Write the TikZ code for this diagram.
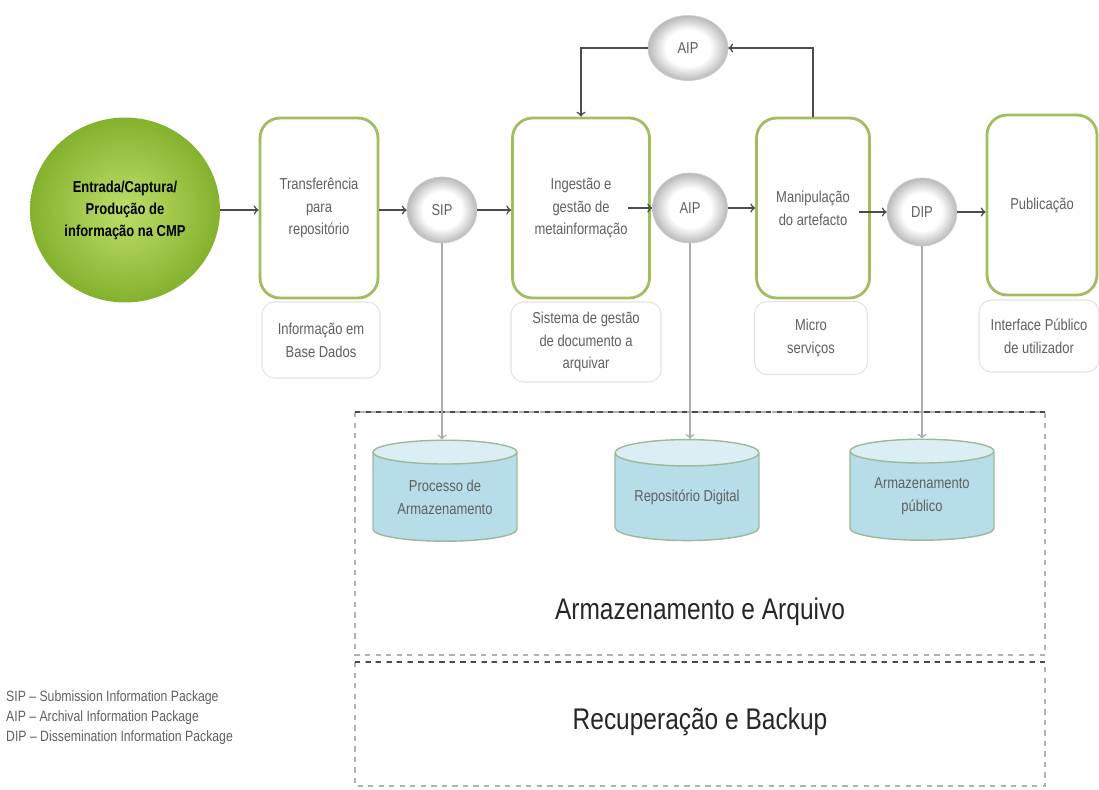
\documentclass[tikz,border=0pt]{standalone}
\usepackage{fontspec}
\setmainfont{Liberation Sans}[FakeStretch=0.82]
\usetikzlibrary{shapes.geometric}
\definecolor{boxgreen}{RGB}{160,190,95}
\definecolor{txtgrey}{HTML}{606060}
\definecolor{cylbody}{HTML}{B7DDE8}
\definecolor{cyltop}{HTML}{DAEEF3}
\definecolor{cylline}{HTML}{9DB89A}
\definecolor{ballin}{RGB}{190,222,105}
\definecolor{ballout}{RGB}{132,178,45}
\pgfdeclareradialshading{pkgshade}{\pgfpoint{0bp}{0bp}}{color(0bp)=(white); color(14bp)=(white); color(25bp)=(gray!55); color(50bp)=(gray!55)}
\begin{document}
\begin{tikzpicture}[
        x=0.02cm, y=-0.02cm,
        font=\fontsize{9}{13}\selectfont,
        text=txtgrey
    ]
    \tikzset{
        procbox/.style = {rectangle, rounded corners=0.4cm, draw=boxgreen, line width=1.6pt, fill=white, align=center, minimum height=3.6cm},
        notebox/.style = {rectangle, rounded corners=0.25cm, draw=gray!22, line width=0.6pt, fill=white, align=center},
        pkg/.style = {ellipse, draw=gray!40, shading=pkgshade, inner sep=0pt},
        store/.style = {cylinder, shape border rotate=90, aspect=0.25, draw=cylline, line width=0.8pt, cylinder uses custom fill, cylinder body fill=cylbody, cylinder end fill=cyltop, minimum width=2.88cm, minimum height=2.02cm, align=center, inner sep=0pt},
        flow/.style = {->, line width=0.9pt, draw=black!70},
        drop/.style = {->, line width=0.9pt, draw=gray!65},
        zone/.style = {dashed, line width=0.6pt, draw=gray!60},
    }
    \useasboundingbox (0,0) rectangle (1099,789);
    % entrada
    \node[ellipse, minimum width=3.8cm, minimum height=3.7cm, shading=radial, inner color=ballin, outer color=ballout, align=center, text=black, font=\fontsize{9}{12.5}\selectfont\bfseries] at (125,210) (entrada) {Entrada/Captura/\\Produção de\\informação na CMP};
    % etapas
    \node[procbox, minimum width=2.36cm] at (319,208) (transf) {Transferência\\para\\repositório};
    \node[procbox, minimum width=2.74cm] at (581,208) (ingest) {Ingestão e\\gestão de\\metainformação};
    \node[procbox, minimum width=2.26cm] at (813,208) (manip) {Manipulação\\do artefacto};
    \node[procbox, minimum width=2.2cm] at (1042,205) (publ) {Publicação};
    % notas
    \node[notebox, minimum width=2.36cm, minimum height=1.52cm] at (321,340) (ntransf) {Informação em\\Base Dados};
    \node[notebox, minimum width=3.0cm, minimum height=1.6cm] at (586,342) (ningest) {Sistema de gestão\\de documento a\\arquivar};
    \node[notebox, minimum width=2.26cm, minimum height=1.46cm] at (811,338) (nmanip) {Micro\\serviços};
    \node[notebox, minimum width=2.4cm, minimum height=1.44cm] at (1039,336) (npubl) {Interface Público\\de utilizador};
    % pacotes
    \node[pkg, minimum width=1.4cm, minimum height=1.32cm] at (442,210) (sip) {SIP};
    \node[pkg, minimum width=1.5cm, minimum height=1.4cm] at (690,208) (aip) {AIP};
    \node[pkg, minimum width=1.4cm, minimum height=1.36cm] at (922,212) (dip) {DIP};
    \node[pkg, minimum width=1.6cm, minimum height=1.3cm] at (688,48) (aiptop) {AIP};
    % zonas
    \draw[zone] (355,412) rectangle (1045,655);
    \draw[zone] (355,662) rectangle (1045,786);
    \draw[zone, draw=black!70] (355,412) -- (1045,412);
    \draw[zone, draw=black!70] (355,662) -- (1045,662);
    \node[text=black!85, font=\fontsize{17}{20}\selectfont] at (700,612) (armaz) {Armazenamento e Arquivo};
    \node[text=black!85, font=\fontsize{17}{20}\selectfont] at (700,722) (recup) {Recuperação e Backup};
    % armazenamento
    \node[store] at (445,497) (proc) {Processo de\\Armazenamento};
    \node[store] at (687,497) (repo) {Repositório Digital};
    \node[store] at (922,496) (pub) {Armazenamento\\público};
    % legenda
    \node[anchor=north west, align=left, font=\fontsize{8.5}{11.4}\selectfont] at (0,684) (legenda) {SIP -- Submission Information Package\\AIP -- Archival Information Package\\DIP -- Dissemination Information Package};
    %
    \draw[flow] (entrada) -- (entrada -| transf.west);
    \draw[flow] (transf.east |- sip) -- (sip);
    \draw[flow] (sip) -- (sip -| ingest.west);
    \draw[flow] ([xshift=-0.46cm]ingest.east |- aip) -- (aip);
    \draw[flow] (aip) -- (aip -| manip.west);
    \draw[flow] ([xshift=-0.24cm]manip.east |- dip) -- (dip);
    \draw[flow] (dip) -- (dip -| publ.west);
    %
    \draw[flow] (manip.north) |- (aiptop);
    \draw[flow] (aiptop) -| (ingest.north);
    %
    \draw[drop] (sip) -- (sip |- proc.north);
    \draw[drop] (aip) -- (aip |- repo.north);
    \draw[drop] (dip) -- (dip |- pub.north);
\end{tikzpicture}
\end{document}
